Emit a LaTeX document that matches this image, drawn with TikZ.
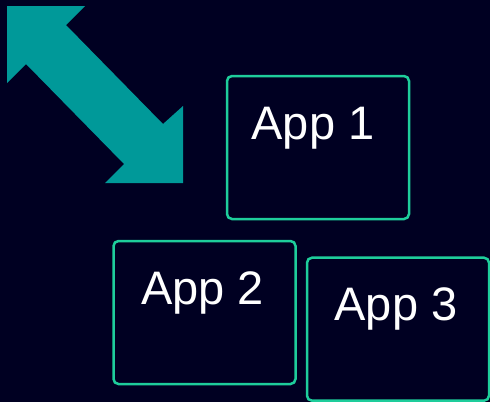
\documentclass[tikz,border=0pt]{standalone}
\usepackage{fontspec}
\setmainfont{Liberation Sans}
\definecolor{bgnavy}{RGB}{0,0,34}
\definecolor{arrowteal}{RGB}{0,153,153}
\definecolor{boxgreen}{RGB}{30,205,155}
\usetikzlibrary{positioning}

\begin{document}
\begin{tikzpicture}[x=1pt, y=-1pt,
    appbox/.style={rectangle, draw=boxgreen, line width=2.5pt, rounded corners=5pt, minimum width=182pt, minimum height=143pt, inner sep=0pt, outer sep=0pt},
    applabel/.style={text=white, font=\fontsize{47}{56}\selectfont, inner sep=0pt, anchor=north}
]
    % Background
    \fill[bgnavy] (0,0) rectangle (490,402);
    \useasboundingbox (0,0) rectangle (490,402);

    % Double arrow
    \fill[arrowteal] (7,6) -- (85,6) -- (66,25) -- (163,124) -- (183,106) -- (183,183) -- (105,183) -- (124,164) -- (26,64) -- (7,83) -- cycle;

    % App boxes
    \node[appbox] (app1) at (318,147.5) {};
    \node[appbox] (app2) at (204.5,312.5) {};
    \node[appbox] (app3) at (398,329.2) {};

    % Labels
    \node[applabel, below=31pt of app1.north, xshift=-5pt] (lab1) {App 1};
    \node[applabel, below=30pt of app2.north, xshift=-2pt] (lab2) {App 2};
    \node[applabel, below=30pt of app3.north, xshift=-2pt] (lab3) {App 3};
\end{tikzpicture}
\end{document}
